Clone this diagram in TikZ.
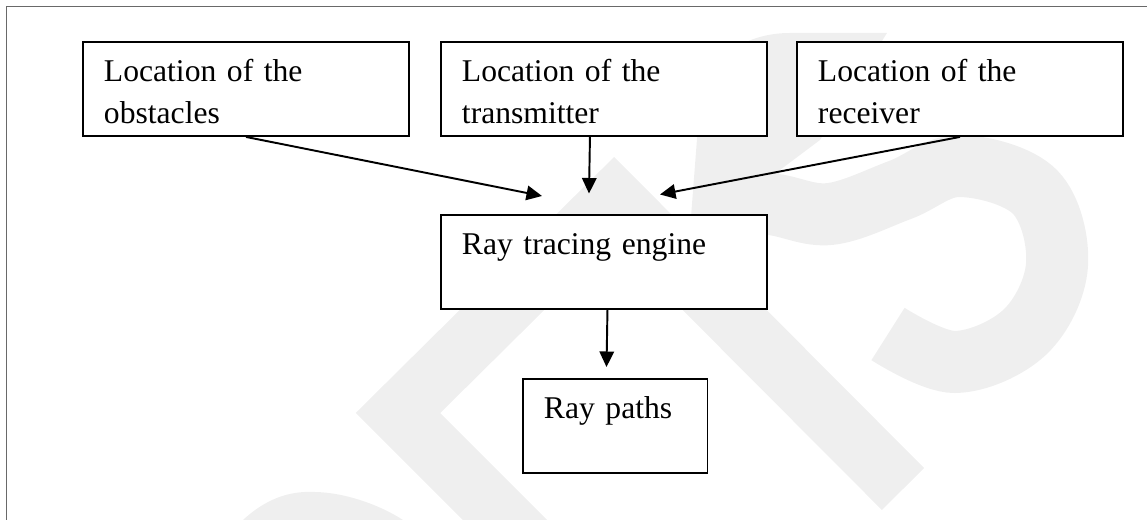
\documentclass[tikz,border=0pt]{standalone}
\usepackage{fontspec}
\setmainfont{Liberation Serif}
\usetikzlibrary{arrows.meta}
\definecolor{wmgray}{RGB}{239,239,239}
\definecolor{framegray}{RGB}{105,105,105}

\begin{document}
\begin{tikzpicture}[
  block/.style={draw,fill=white,line width=1.1pt,anchor=north west,align=left,
    inner xsep=0.42cm,inner ysep=0pt,text width=5.68cm,
    text height=0.80cm,text depth=1.08cm,
    font=\fontsize{18}{23.7}\selectfont},
  flow/.style={line width=1.1pt,-{Triangle[length=0.31cm,width=0.29cm]}}]
  \useasboundingbox (0,0) rectangle (22.94,10.40);
  % faint mark behind the chart
  \begin{scope}
    \clip (0,0) rectangle (22.94,10.40);
    \draw[wmgray,line width=1.19cm,line join=miter] (10.60,-0.50) -- (7.96,2.14) -- (12.28,6.42) -- (18.06,0.62);
    \draw[wmgray,line width=1.24cm] plot[smooth,tension=0.6] coordinates {(14.00,6.40) (15.40,6.32) (16.60,6.12) (18.00,6.60) (19.20,7.08) (20.70,6.56) (21.14,5.10) (20.50,3.76) (19.10,3.16) (17.76,3.72)};
    \fill[wmgray] (13.80,5.80) -- (14.00,8.40) to[out=80,in=180] (15.80,9.74) -- (17.74,9.74) -- (16.40,7.60) -- (15.60,7.00) -- (15.20,5.80) -- cycle;
    \fill[wmgray] (4.86,0) .. controls (5.40,0.50) and (5.90,0.58) .. (6.30,0.56) .. controls (6.90,0.55) and (7.60,0.30) .. (8.06,0) -- cycle;
  \end{scope}
  % page frame
  \draw[framegray,line width=0.9pt] (0.134,0) -- (0.134,10.266) -- (22.94,10.266);

  \node[block] (obst) at (1.64,9.58) {Location of the\\obstacles};
  \node[block] (trans) at (8.80,9.58) {Location of the\\transmitter};
  \node[block] (recv) at (15.92,9.58) {Location of the\\receiver};
  \node[block] (engine) at (8.80,6.12) {Ray tracing engine};
  \node[block,text width=2.85cm] (paths) at (10.44,2.84) {Ray paths};

  \coordinate (inA) at (10.84,6.48);
  \coordinate (inB) at (11.78,6.53);
  \coordinate (inC) at (13.20,6.51);
  \coordinate (inD) at (12.13,3.06);
  \draw[flow] (obst.south) -- (inA);
  \draw[flow] ([xshift=-0.28cm]trans.south) -- (inB);
  \draw[flow] (recv.south) -- (inC);
  \draw[flow] ([xshift=0.07cm]engine.south) -- (inD);
\end{tikzpicture}
\end{document}
